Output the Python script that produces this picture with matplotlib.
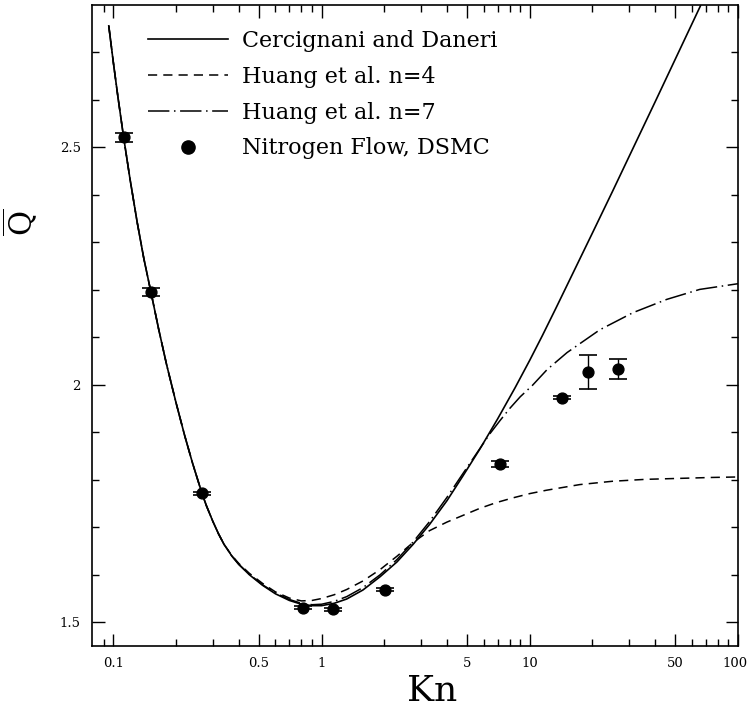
import matplotlib
matplotlib.use("Agg")
import matplotlib.pyplot as plt
import matplotlib.transforms as mtransforms
from matplotlib.lines import Line2D
from matplotlib.ticker import FixedLocator, FixedFormatter, NullFormatter

plt.rcParams['font.family'] = ['DejaVu Serif']
plt.rcParams['mathtext.fontset'] = 'dejavuserif'

# Cercignani and Daneri (solid)
kn_cd = [0.095, 0.100, 0.105, 0.112, 0.120, 0.130, 0.140, 0.1515, 0.165, 0.180, 0.200,
         0.220, 0.240, 0.266, 0.280, 0.300, 0.320, 0.340, 0.370, 0.400, 0.450, 0.520,
         0.600, 0.700, 0.800, 0.900, 1.00, 1.15, 1.32, 1.58, 1.91, 2.30, 2.75, 3.30,
         4.00, 4.77, 5.76, 7.00, 8.50, 10.0, 11.5, 13.3, 15.5, 20.0, 25.0, 30.0, 40.0,
         50.0, 66.0]
q_cd = [2.756, 2.678, 2.608, 2.521, 2.435, 2.343, 2.266, 2.195, 2.117, 2.043, 1.962,
        1.893, 1.835, 1.772, 1.745, 1.713, 1.686, 1.664, 1.640, 1.622, 1.600, 1.578,
        1.560, 1.546, 1.538, 1.535, 1.535, 1.540, 1.549, 1.568, 1.596, 1.627, 1.664, 1.706,
        1.756, 1.808, 1.865, 1.928, 1.994, 2.052, 2.104, 2.160, 2.220, 2.320, 2.408, 2.481,
        2.596, 2.686, 2.798]

# Huang et al. n=4 (dashed)
kn_n4 = [0.095, 0.100, 0.105, 0.112, 0.120, 0.130, 0.140, 0.1515, 0.165, 0.180, 0.200,
         0.220, 0.240, 0.266, 0.280, 0.300, 0.320, 0.340, 0.370, 0.400, 0.450, 0.520,
         0.600, 0.700, 0.800, 0.900, 1.00, 1.15, 1.32, 1.58, 1.91, 2.30, 2.75, 3.30,
         4.00, 4.77, 5.76, 6.90, 8.30, 10.0, 12.0, 14.0, 17.4, 25.0, 36.0, 52.0, 75.0,
         100.0]
q_n4 = [2.756, 2.678, 2.608, 2.521, 2.435, 2.343, 2.266, 2.195, 2.117, 2.043, 1.962,
        1.893, 1.835, 1.772, 1.745, 1.713, 1.686, 1.664, 1.641, 1.624, 1.603, 1.582,
        1.564, 1.551, 1.545, 1.546, 1.550, 1.558, 1.569, 1.587, 1.611, 1.639, 1.668, 1.693,
        1.711, 1.725, 1.740, 1.752, 1.762, 1.771, 1.778, 1.783, 1.790, 1.797, 1.801, 1.803,
        1.805, 1.806]

# Huang et al. n=7 (dash-dot)
kn_n7 = [0.095, 0.100, 0.105, 0.112, 0.120, 0.130, 0.140, 0.1515, 0.165, 0.180, 0.200,
         0.220, 0.240, 0.266, 0.280, 0.300, 0.320, 0.340, 0.370, 0.400, 0.450, 0.520,
         0.600, 0.700, 0.800, 0.900, 1.00, 1.15, 1.32, 1.58, 1.91, 2.30, 2.75, 3.30,
         4.00, 4.77, 5.76, 6.43, 7.20, 8.00, 9.00, 10.3, 12.1, 15.1, 21.7, 31.3, 45.5,
         65.5, 100.0]
q_n7 = [2.756, 2.678, 2.608, 2.521, 2.435, 2.343, 2.266, 2.195, 2.117, 2.043, 1.962,
        1.893, 1.835, 1.772, 1.745, 1.713, 1.686, 1.664, 1.640, 1.622, 1.601, 1.579,
        1.562, 1.548, 1.540, 1.537, 1.538, 1.544, 1.554, 1.573, 1.600, 1.632, 1.669, 1.712,
        1.763, 1.813, 1.866, 1.897, 1.925, 1.950, 1.975, 1.999, 2.032, 2.068, 2.116, 2.152,
        2.180, 2.201, 2.213]

# Nitrogen flow, DSMC
kn_dsmc = [0.112, 0.1515, 0.266, 0.813, 1.133, 2.01, 7.18, 14.3, 19.0, 26.5]
q_dsmc = [2.521, 2.196, 1.772, 1.531, 1.527, 1.569, 1.833, 1.973, 2.027, 2.034]
err_dsmc = [0.009, 0.009, 0.003, 0.003, 0.004, 0.003, 0.007, 0.003, 0.036, 0.021]

labels = ['Cercignani and Daneri', 'Huang et al. n=4', 'Huang et al. n=7',
          'Nitrogen Flow, DSMC']

xticks_major = [0.1, 0.5, 1, 5, 10, 50, 100]
xtick_labels = ['0.1', '0.5', '1', '5', '10', '50', '100']
xticks_minor = [0.09, 0.2, 0.3, 0.4, 0.6, 0.7, 0.8, 0.9, 2, 3, 4, 6, 7, 8, 9,
                20, 30, 40, 60, 70, 80, 90]
yticks_major = [1.5, 2.0, 2.5]
ytick_labels = ['1.5', '2', '2.5']
yticks_minor = [1.6, 1.7, 1.8, 1.9, 2.1, 2.2, 2.3, 2.4, 2.6, 2.7]

fig = plt.figure(figsize=(7.49, 7.11), dpi=100)
ax = fig.add_axes([0.1228, 0.0914, 0.8625, 0.9016])

dash_n4 = (0, (6, 4))
dash_n7 = (0, (14, 3, 1, 3))
ax.plot(kn_cd, q_cd, color='black', lw=1.2, ls='-')
ax.plot(kn_n4, q_n4, color='black', lw=1.1, ls=dash_n4)
ax.plot(kn_n7, q_n7, color='black', lw=1.1, ls=dash_n7)
ax.errorbar(kn_dsmc, q_dsmc, yerr=err_dsmc, fmt='o', color='black', ms=7.8,
            capsize=6.5, elinewidth=1.0, capthick=1.2)

ax.set_xscale('log')
ax.set_xlim(0.0789, 100)
ax.set_ylim(1.45, 2.80)

ax.xaxis.set_major_locator(FixedLocator(xticks_major))
ax.xaxis.set_major_formatter(FixedFormatter(xtick_labels))
ax.xaxis.set_minor_locator(FixedLocator(xticks_minor))
ax.xaxis.set_minor_formatter(NullFormatter())
ax.yaxis.set_major_locator(FixedLocator(yticks_major))
ax.yaxis.set_major_formatter(FixedFormatter(ytick_labels))
ax.yaxis.set_minor_locator(FixedLocator(yticks_minor))

ax.tick_params(which='both', direction='in', top=True, right=True, width=1.0)
ax.tick_params(which='major', length=9, labelsize=9.5, pad=8)
ax.tick_params(which='minor', length=5)
for s in ax.spines.values():
    s.set_linewidth(1.2)

# nudge the last x tick label so it stays inside the figure
last = ax.xaxis.get_major_ticks()[-1].label1
last.set_transform(last.get_transform() +
                   mtransforms.ScaledTranslation(-0.03, 0, fig.dpi_scale_trans))

ax.set_xlabel('Kn', fontsize=26)
ax.xaxis.set_label_coords(0.526, -0.044)
ax.set_ylabel(r'$\overline{\mathrm{Q}}$', fontsize=22)
ax.yaxis.set_label_coords(-0.080, 0.661)

handles = [Line2D([], [], color='black', lw=1.2, ls='-'),
           Line2D([], [], color='black', lw=1.1, ls=dash_n4),
           Line2D([], [], color='black', lw=1.1, ls=dash_n7),
           Line2D([], [], color='black', ls='none', marker='o', ms=9.5)]
ax.legend(handles, labels, loc='upper left', bbox_to_anchor=(0.087, 0.961),
          frameon=False, fontsize=16, handlelength=3.6, handletextpad=0.63,
          labelspacing=0.62, borderpad=0, borderaxespad=0)

fig.savefig('out.png', dpi=100)
